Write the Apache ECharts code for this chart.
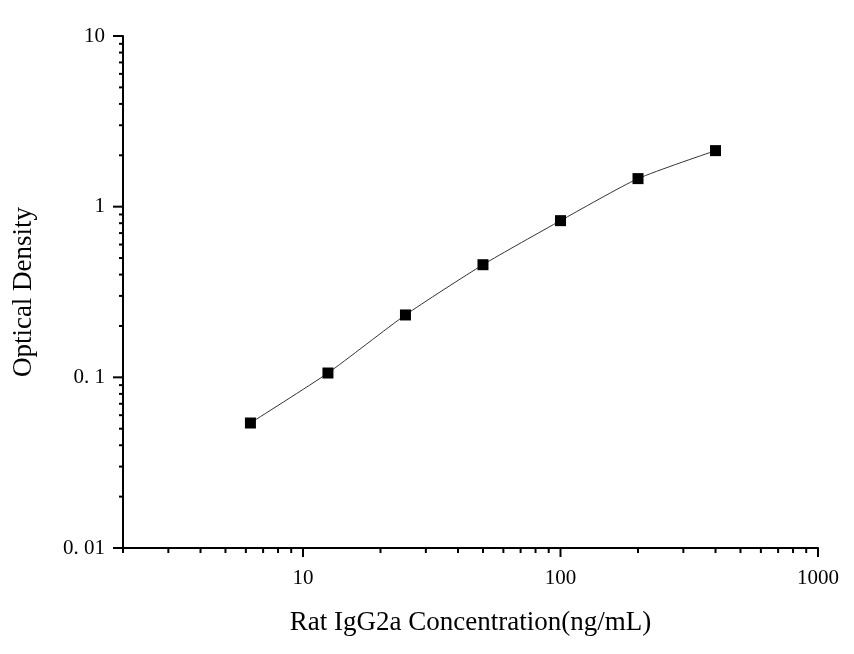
<!DOCTYPE html>
<html lang="en">
<head>
    <meta charset="UTF-8">
    <title>Rat IgG2a standard curve</title>
    <style>
        html, body { margin: 0; padding: 0; background: #fff; }
        #main { width: 854px; height: 654px; }
    </style>
</head>
<body>
    <div id="main"></div>
    <script src="https://cdn.jsdelivr.net/npm/echarts@6/dist/echarts.min.js"></script>
    <script>
        // standard points
        var concentration = [6.25, 12.5, 25, 50, 100, 200, 400];
        var opticalDensity = [0.054, 0.106, 0.232, 0.457, 0.828, 1.46, 2.13];

        // axis ticks
        var xMajorTicks = [10, 100, 1000];
        var xMinorTicks = [2, 3, 4, 5, 6, 7, 8, 9, 20, 30, 40, 50, 60, 70, 80, 90, 200, 300, 400, 500, 600, 700, 800, 900];
        var yMajorTicks = [0.01, 0.1, 1, 10];
        var yMinorTicks = [0.02, 0.03, 0.04, 0.05, 0.06, 0.07, 0.08, 0.09,
            0.2, 0.3, 0.4, 0.5, 0.6, 0.7, 0.8, 0.9,
            2, 3, 4, 5, 6, 7, 8, 9];
        var xLabels = { 1: '10', 2: '100', 3: '1000' };
        var yLabels = { '-2': '0. 01', '-1': '0. 1', '0': '1', '1': '10' };

        var xMin = 2, xMax = 1000, yMin = 0.01, yMax = 10;
        var font = 'Liberation Serif';

        function labelFor(map, v) {
            var e = Math.log10(v);
            var r = Math.round(e);
            if (Math.abs(e - r) > 1e-6) return '';
            return map[r] !== undefined ? map[r] : '';
        }

        var xTickData = [];
        xMajorTicks.forEach(function (v) { xTickData.push([v, yMin, 9]); });
        xMinorTicks.forEach(function (v) { xTickData.push([v, yMin, 5]); });
        var yTickData = [];
        yMajorTicks.forEach(function (v) { yTickData.push([xMin, v, 10]); });
        yMinorTicks.forEach(function (v) { yTickData.push([xMin, v, 4]); });

        var chart = echarts.init(document.getElementById('main'));

        var option = {
            animation: false,
            backgroundColor: '#fff',
            grid: { left: 123, right: 36, top: 36, bottom: 106 },
            xAxis: {
                type: 'log',
                logBase: 10,
                min: xMin,
                max: xMax,
                name: 'Rat IgG2a Concentration(ng/mL)',
                nameLocation: 'middle',
                nameGap: 61,
                nameTextStyle: { fontFamily: font, fontSize: 27, color: '#000' },
                axisLine: { lineStyle: { color: '#000', width: 2 } },
                axisTick: { show: false },
                splitLine: { show: false },
                axisLabel: {
                    margin: 20,
                    fontFamily: font,
                    fontSize: 21,
                    color: '#000',
                    showMinLabel: false,
                    formatter: function (v) { return labelFor(xLabels, v); }
                }
            },
            yAxis: {
                type: 'log',
                logBase: 10,
                min: yMin,
                max: yMax,
                name: 'Optical Density',
                nameLocation: 'middle',
                nameGap: 86,
                nameTextStyle: { fontFamily: font, fontSize: 27, color: '#000' },
                axisLine: { show: true, lineStyle: { color: '#000', width: 2 } },
                axisTick: { show: false },
                splitLine: { show: false },
                axisLabel: {
                    margin: 18,
                    fontFamily: font,
                    fontSize: 21,
                    color: '#000',
                    formatter: function (v) { return labelFor(yLabels, v); }
                }
            },
            series: [
                {
                    type: 'line',
                    data: concentration.map(function (c, i) { return [c, opticalDensity[i]]; }),
                    symbol: 'rect',
                    symbolSize: 11,
                    smooth: 0.2,
                    itemStyle: { color: '#000' },
                    lineStyle: { color: '#333', width: 1 },
                    z: 3
                },
                {
                    type: 'custom',
                    clip: false,
                    silent: true,
                    data: xTickData,
                    renderItem: function (params, api) {
                        var p = api.coord([api.value(0), api.value(1)]);
                        var len = api.value(2);
                        return {
                            type: 'line',
                            shape: { x1: p[0], y1: p[1], x2: p[0], y2: p[1] + len },
                            style: { stroke: '#000', lineWidth: 2 }
                        };
                    }
                },
                {
                    type: 'custom',
                    clip: false,
                    silent: true,
                    data: yTickData,
                    renderItem: function (params, api) {
                        var p = api.coord([api.value(0), api.value(1)]);
                        var len = api.value(2);
                        return {
                            type: 'line',
                            shape: { x1: p[0], y1: p[1], x2: p[0] - len, y2: p[1] },
                            style: { stroke: '#000', lineWidth: 2 }
                        };
                    }
                }
            ]
        };

        chart.setOption(option);
    </script>
</body>
</html>
